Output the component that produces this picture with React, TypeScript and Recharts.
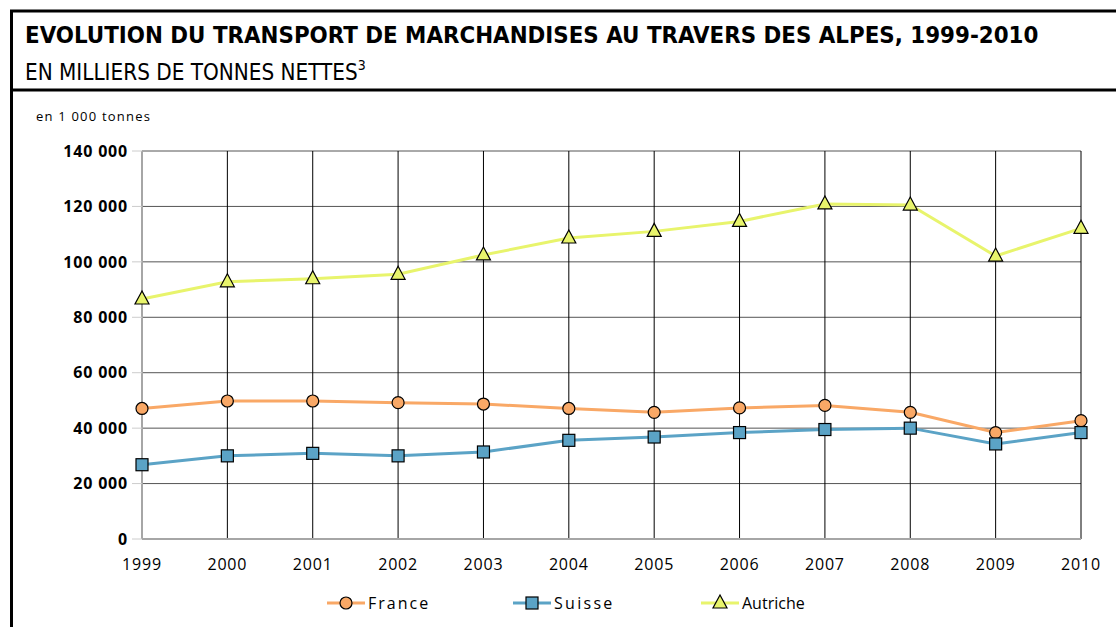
import { LineChart, Line, XAxis, YAxis, CartesianGrid } from 'recharts';

const years = ['1999', '2000', '2001', '2002', '2003', '2004', '2005', '2006', '2007', '2008', '2009', '2010'];
const france = [47.1, 49.8, 49.8, 49.2, 48.7, 47.1, 45.7, 47.3, 48.2, 45.7, 38.4, 42.7];
const suisse = [26.8, 30.0, 30.9, 30.0, 31.4, 35.6, 36.8, 38.4, 39.5, 40.0, 34.3, 38.4];
const autriche = [86.6, 92.8, 93.9, 95.5, 102.5, 108.6, 111.0, 114.6, 120.9, 120.5, 102.1, 112.1];
const yTicks = [0, 20000, 40000, 60000, 80000, 100000, 120000, 140000];

const data = years.map((year, i) => ({
  year,
  France: france[i] * 1000,
  Suisse: suisse[i] * 1000,
  Autriche: autriche[i] * 1000,
}));

const ORANGE = '#F9A866';
const BLUE = '#5BA3C6';
const YELLOW = '#E8F46C';
const NARROW = "'DejaVu Sans Condensed', 'Liberation Sans Narrow', sans-serif";

const fmt = (v: number) => (v === 0 ? '0' : `${Math.round(v / 1000)} 000`);

function CircleDot(props: any) {
  const { cx, cy } = props;
  if (cx == null || cy == null) return null;
  return <circle cx={cx} cy={cy} r={6} fill={ORANGE} stroke="#000" strokeWidth={1.2} />;
}

function SquareDot(props: any) {
  const { cx, cy } = props;
  if (cx == null || cy == null) return null;
  return <rect x={cx - 6} y={cy - 6} width={12} height={12} fill={BLUE} stroke="#000" strokeWidth={1.2} />;
}

function TriangleDot(props: any) {
  const { cx, cy } = props;
  if (cx == null || cy == null) return null;
  return (
    <polygon
      points={`${cx},${cy - 8} ${cx - 7},${cy + 5} ${cx + 7},${cy + 5}`}
      fill={YELLOW}
      stroke="#000"
      strokeWidth={1.2}
    />
  );
}

function LegendItem({ x, color, label, marker, spacing }: { x: number; color: string; label: string; marker: 'c' | 's' | 't'; spacing: number }) {
  return (
    <g transform={`translate(${x},603)`}>
      <line x1={0} x2={38} y1={0} y2={0} stroke={color} strokeWidth={3} />
      {marker === 'c' && <circle cx={19} cy={0} r={6} fill={ORANGE} stroke="#000" strokeWidth={1.2} />}
      {marker === 's' && <rect x={13} y={-6} width={12} height={12} fill={BLUE} stroke="#000" strokeWidth={1.2} />}
      {marker === 't' && <polygon points="19,-8 12,5 26,5" fill={YELLOW} stroke="#000" strokeWidth={1.2} />}
      <text x={41} y={6} fontSize={16} letterSpacing={spacing} fill="#000" fontFamily="'Open Sans', sans-serif">
        {label}
      </text>
    </g>
  );
}

export default function App() {
  return (
    <div style={{ position: 'relative', width: 1116, height: 627, background: '#fff', overflow: 'hidden' }}>
      <style>{`body{margin:0}`}</style>
      <svg width={1116} height={627} style={{ position: 'absolute', left: 0, top: 0 }}>
        <line x1={10} x2={1116} y1={11} y2={11} stroke="#000" strokeWidth={3} />
        <line x1={11.5} x2={11.5} y1={10} y2={627} stroke="#000" strokeWidth={3} />
        <line x1={10} x2={1116} y1={90} y2={90} stroke="#000" strokeWidth={3} />
        <text x={25} y={43} fontSize={23.8} fontWeight="bold" fontFamily={NARROW}>
          EVOLUTION DU TRANSPORT DE MARCHANDISES AU TRAVERS DES ALPES, 1999-2010
        </text>
        <text x={25} y={80} fontSize={22.3} fontFamily={NARROW}>
          EN MILLIERS DE TONNES NETTES
          <tspan dy={-10} fontSize={14}>
            3
          </tspan>
        </text>
        <text x={36} y={121} fontSize={13} letterSpacing={1.2} fontFamily="'Open Sans', sans-serif">
          en 1 000 tonnes
        </text>
        <LegendItem x={327} color={ORANGE} label="France" marker="c" spacing={2} />
        <LegendItem x={513} color={BLUE} label="Suisse" marker="s" spacing={2.3} />
        <LegendItem x={701} color={YELLOW} label="Autriche" marker="t" spacing={0} />
      </svg>
      <div style={{ position: 'absolute', left: 0, top: 0 }}>
        <LineChart width={1116} height={627} data={data} margin={{ top: 151, right: 35, bottom: 58, left: 12 }}>
          <CartesianGrid stroke="#555" vertical={false} />
          <CartesianGrid stroke="#000" horizontal={false} />
          <XAxis
            dataKey="year"
            height={30}
            axisLine={{ stroke: '#a6a6a6', strokeWidth: 2 }}
            tickLine={false}
            tickMargin={14}
            tick={{ fill: '#000', fontSize: 16, fontFamily: "'Open Sans', sans-serif", letterSpacing: 0.8 }}
            padding={{ left: 0, right: 0 }}
            interval={0}
          />
          <YAxis
            width={130}
            domain={[0, 140000]}
            ticks={yTicks}
            tickFormatter={fmt}
            axisLine={{ stroke: '#a6a6a6', strokeWidth: 2 }}
            tickLine={{ stroke: '#ccc' }}
            tickSize={10}
            tickMargin={4}
            tick={{ fill: '#000', fontSize: 16, fontWeight: 'bold', fontFamily: "'Open Sans', sans-serif", letterSpacing: 0.8 }}
            interval={0}
          />
          <Line dataKey="France" stroke={ORANGE} strokeWidth={3} dot={<CircleDot />} isAnimationActive={false} />
          <Line dataKey="Suisse" stroke={BLUE} strokeWidth={3} dot={<SquareDot />} isAnimationActive={false} />
          <Line dataKey="Autriche" stroke={YELLOW} strokeWidth={3} dot={<TriangleDot />} isAnimationActive={false} />
        </LineChart>
      </div>
    </div>
  );
}
